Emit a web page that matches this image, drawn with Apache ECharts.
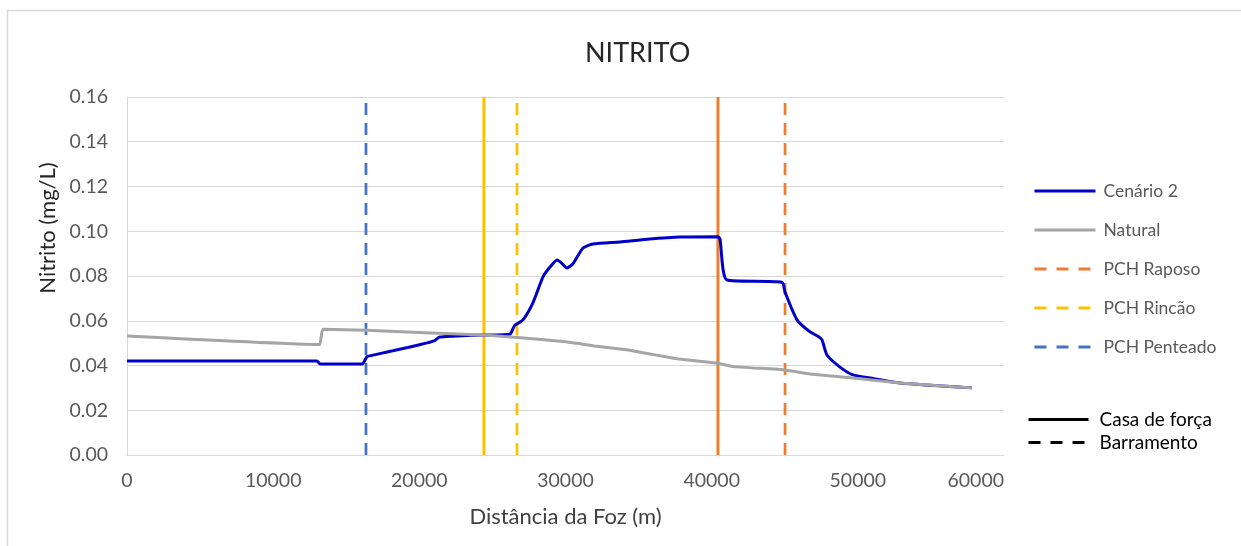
<!DOCTYPE html>
<html>
<head>
<meta charset="utf-8">
<script src="https://cdn.jsdelivr.net/npm/echarts@6/dist/echarts.min.js"></script>
<style>
html,body{margin:0;padding:0;background:#fff;}
#chart{width:1241px;height:546px;}
</style>
</head>
<body>
<div id="chart"></div>
<script>
// ---- data ----
const cenario2 = [
  [0,0.0420],[13000,0.0420],[13200,0.0407],[16080,0.0407],[16350,0.0432],[16420,0.0440],
  [17790,0.0460],[19360,0.0483],[20520,0.0501],[21000,0.0510],[21400,0.0527],[23470,0.0535],
  [26200,0.0540],[26410,0.0565],[26540,0.0580],[27090,0.0604],[27770,0.0680],[28460,0.0796],
  [28940,0.0840],[29420,0.0872],[29700,0.0860],[30100,0.0836],[30510,0.0855],[31200,0.0925],
  [31880,0.0943],[33730,0.0952],[35580,0.0964],[37830,0.0974],[40430,0.0975],[40570,0.0965],
  [41050,0.0782],[44810,0.0772],[45020,0.0728],[45840,0.0604],[46730,0.0550],[47300,0.0530],
  [47550,0.0514],[47890,0.0447],[48780,0.0393],[49670,0.0358],[50830,0.0344],[52880,0.0322],
  [57800,0.0300]
];
const natural = [
  [0,0.0532],[13000,0.0494],[13200,0.0494],[13400,0.0562],[16350,0.0557],[24420,0.0536],
  [26700,0.0525],[30000,0.0506],[32000,0.0487],[34300,0.0469],[36500,0.0443],[37600,0.0430],
  [40430,0.0410],[41460,0.0395],[45020,0.0380],[46730,0.0362],[49670,0.0344],[52880,0.0322],
  [57800,0.0300]
];
const pchNames = ['PCH Raposo','PCH Rincão','PCH Penteado'];
const pchColors = ['#ED7D31','#FFC000','#4472C4'];
const barramento = [45020, 26680, 16350];     // dashed lines
const casaDeForca = [40430, 24420, null];      // solid lines
const yRange = [0, 0.16];

const DASH = [12,8];
const series = [
  {name:'Cenário 2', type:'line', data:cenario2, symbol:'none', smooth:0.2,
   lineStyle:{color:'#0000C8', width:3}, itemStyle:{color:'#0000C8'}, z:3},
  {name:'Natural', type:'line', data:natural, symbol:'none', smooth:0.1,
   lineStyle:{color:'#A5A5A5', width:3}, itemStyle:{color:'#A5A5A5'}, z:4}
];
pchNames.forEach((n,i)=>{
  series.push({name:n, type:'line', symbol:'none', data:[[barramento[i],yRange[0]],[barramento[i],yRange[1]]],
    lineStyle:{color:pchColors[i], width:2.75, type:DASH}, itemStyle:{color:pchColors[i]}, z:2});
  if (casaDeForca[i] != null) {
    series.push({name:n+' (casa de força)', type:'line', symbol:'none', data:[[casaDeForca[i],yRange[0]],[casaDeForca[i],yRange[1]]],
      lineStyle:{color:pchColors[i], width:3}, itemStyle:{color:pchColors[i]}, z:2});
  }
});
series.push({name:'Casa de força', type:'line', symbol:'none', data:[], lineStyle:{color:'#000', width:3}, itemStyle:{color:'#000'}});
series.push({name:'Barramento', type:'line', symbol:'none', data:[], lineStyle:{color:'#000', width:3, type:[12,9]}, itemStyle:{color:'#000'}});

const legendDash = {type:[12,10], width:3};
const FONT = 'Lato';
const chart = echarts.init(document.getElementById('chart'), null, {renderer:'canvas'});
chart.setOption({
  animation:false,
  backgroundColor:'#fff',
  textStyle:{fontFamily:FONT},
  graphic:[{type:'rect', shape:{x:7.5, y:10.5, width:1400, height:700}, style:{fill:'none', stroke:'#D9D9D9', lineWidth:1.5}, silent:true}],
  title:{text:'NITRITO', left:580, top:35, textStyle:{fontFamily:FONT, fontSize:27, fontWeight:'normal', color:'#262626'}},
  grid:{left:127, right:237, top:97, bottom:91},
  xAxis:{type:'value', min:0, max:60000, interval:10000,
    name:'Distância da Foz (m)', nameLocation:'middle', nameGap:51,
    nameTextStyle:{fontFamily:FONT, fontSize:22, color:'#404040'},
    axisLine:{show:true, lineStyle:{color:'#D9D9D9', width:1}}, axisTick:{show:false},
    axisLabel:{fontFamily:FONT, fontSize:19.5, color:'#595959', margin:16, alignMaxLabel:'right', formatter:v=>String(v)},
    splitLine:{show:false}},
  yAxis:{type:'value', min:0, max:0.16, interval:0.02,
    name:'Nitrito (mg/L)', nameLocation:'middle', nameGap:64, nameRotate:90,
    nameTextStyle:{fontFamily:FONT, fontSize:22, color:'#262626', padding:[0,0,0,96]},
    axisLine:{show:true, lineStyle:{color:'#D9D9D9', width:1}}, axisTick:{show:false},
    axisLabel:{fontFamily:FONT, fontSize:19.5, color:'#595959', margin:19, formatter:v=>v.toFixed(2)},
    splitLine:{show:true, lineStyle:{color:'#D9D9D9', width:1}}},
  legend:[
    {data:[
       {name:'Cenário 2', lineStyle:{width:3}},
       {name:'Natural', lineStyle:{width:3}},
       {name:'PCH Raposo', lineStyle:legendDash},
       {name:'PCH Rincão', lineStyle:legendDash},
       {name:'PCH Penteado', lineStyle:legendDash}],
     orient:'vertical', left:1028, top:177, itemWidth:61, itemHeight:18, itemGap:21,
     itemStyle:{opacity:0},
     textStyle:{fontFamily:FONT, fontSize:17.5, color:'#595959', padding:[0,0,0,3]}},
    {data:[
       {name:'Casa de força', lineStyle:{width:3}},
       {name:'Barramento', lineStyle:{width:3, type:[12,10]}}],
     orient:'vertical', left:1022, top:405, itemWidth:60, itemHeight:19, itemGap:4,
     itemStyle:{opacity:0},
     textStyle:{fontFamily:FONT, fontSize:19, color:'#000', padding:[0,0,0,6]}}
  ],
  series:series
});
</script>
</body>
</html>
